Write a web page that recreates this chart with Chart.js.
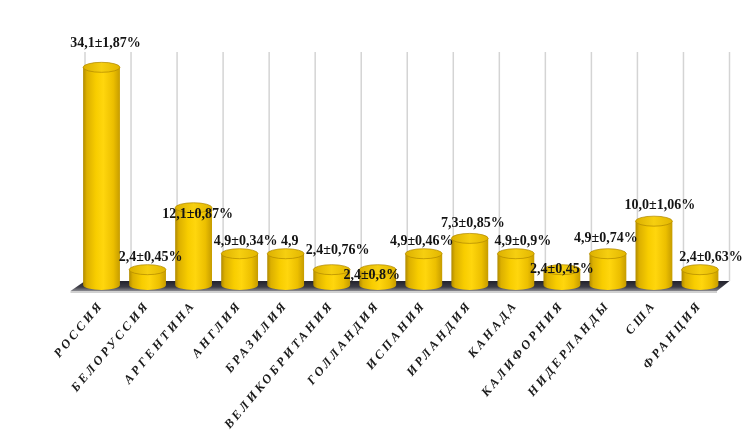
<!DOCTYPE html>
<html><head><meta charset="utf-8">
<script src="https://cdn.jsdelivr.net/npm/chart.js@4"></script>
<style>html,body{margin:0;padding:0;background:#fff}canvas{display:block}</style>
</head><body>
<canvas id="c" width="748" height="448"></canvas>
<script>
const categories = ['РОССИЯ','БЕЛОРУССИЯ','АРГЕНТИНА','АНГЛИЯ','БРАЗИЛИЯ','ВЕЛИКОБРИТАНИЯ','ГОЛЛАНДИЯ','ИСПАНИЯ','ИРЛАНДИЯ','КАНАДА','КАЛИФОРНИЯ','НИДЕРЛАНДЫ','США','ФРАНЦИЯ'];
const values = [34.1, 2.4, 12.1, 4.9, 4.9, 2.4, 2.4, 4.9, 7.3, 4.9, 2.4, 4.9, 10.0, 2.4];
const valueLabels = ['34,1±1,87%','2,4±0,45%','12,1±0,87%','4,9±0,34%','4,9','2,4±0,76%','2,4±0,8%','4,9±0,46%','7,3±0,85%','4,9±0,9%','2,4±0,45%','4,9±0,74%','10,0±1,06%','2,4±0,63%'];
// label nudges in px (placement style only)
const labelDx = [4, 3, 4, 6, 4, 6, -6, -2, 3, 7, 0, -2, 6, 11];
const labelDy = [-19, -7, 12, -7, -7, -14, 11, -7, -10, -7, 5, -10, -11, -7];

const RY = 5;        // cylinder ellipse half-height
const DEPTH = 6.5;   // 3D back-wall shift

function bodyGradient(ctx, x0, x1) {
  const g = ctx.createLinearGradient(x0, 0, x1, 0);
  g.addColorStop(0, '#b08a00');
  g.addColorStop(0.1, '#dcb000');
  g.addColorStop(0.35, '#f8cd00');
  g.addColorStop(0.55, '#ffd60d');
  g.addColorStop(0.82, '#ecbf00');
  g.addColorStop(1, '#c69c00');
  return g;
}
function topGradient(ctx, x0, x1) {
  const g = ctx.createLinearGradient(x0, 0, x1, 0);
  g.addColorStop(0, '#dcb000');
  g.addColorStop(0.5, '#f6cf10');
  g.addColorStop(1, '#e2b600');
  return g;
}

const cylPlugin = {
  id: 'cyl',
  beforeDraw(chart) {
    chart.ctx.letterSpacing = '3px';
  },
  beforeDatasetsDraw(chart) {
    const ctx = chart.ctx;
    ctx.letterSpacing = '0px';
    ctx.save();
    const xs = chart.scales.x, ca = chart.chartArea;
    const n = categories.length;
    const floorBack = ca.bottom - 4, floorFront = ca.bottom + 6;
    // back-wall gridlines
    ctx.strokeStyle = '#d4d4d4';
    ctx.lineWidth = 1.5;
    for (let i = 0; i <= n; i++) {
      const x = xs.getPixelForValue(i - 0.5) + DEPTH;
      ctx.beginPath();
      ctx.moveTo(x, ca.top);
      ctx.lineTo(x, floorBack);
      ctx.stroke();
    }
    // floor
    const xl = xs.getPixelForValue(-0.5), xr = xs.getPixelForValue(n - 0.5);
    ctx.beginPath();
    ctx.moveTo(xl + DEPTH, floorBack);
    ctx.lineTo(xr + DEPTH, floorBack);
    ctx.lineTo(xr - 6, floorFront);
    ctx.lineTo(xl - 8, floorFront);
    ctx.closePath();
    const fg = ctx.createLinearGradient(0, floorBack, 0, floorFront);
    fg.addColorStop(0, '#22222c');
    fg.addColorStop(0.6, '#3c3c46');
    fg.addColorStop(1, '#8a8a90');
    ctx.fillStyle = fg;
    ctx.fill();
    ctx.fillStyle = 'rgba(170,170,170,0.55)';
    ctx.fillRect(xl - 8, floorFront, xr - xl + 2, 2);
    // bottom half-ellipses of cylinders
    const meta = chart.getDatasetMeta(0);
    meta.data.forEach(bar => {
      const p = bar.getProps(['x', 'base', 'width'], true);
      const hw = p.width / 2;
      ctx.beginPath();
      ctx.ellipse(p.x, p.base, hw, RY, 0, 0, Math.PI);
      ctx.closePath();
      ctx.fillStyle = bodyGradient(ctx, p.x - hw, p.x + hw);
      ctx.fill();
    });
    ctx.restore();
  },
  afterDatasetsDraw(chart) {
    const ctx = chart.ctx;
    ctx.save();
    ctx.letterSpacing = '0px';
    const meta = chart.getDatasetMeta(0);
    meta.data.forEach(bar => {
      const p = bar.getProps(['x', 'y', 'width'], true);
      const hw = p.width / 2;
      ctx.beginPath();
      ctx.ellipse(p.x, p.y, hw, RY, 0, 0, Math.PI * 2);
      ctx.fillStyle = topGradient(ctx, p.x - hw, p.x + hw);
      ctx.fill();
      ctx.strokeStyle = 'rgba(175,135,0,0.7)';
      ctx.lineWidth = 1;
      ctx.stroke();
    });
    ctx.font = 'bold 14px "Liberation Serif", "Times New Roman", serif';
    ctx.textAlign = 'center';
    ctx.textBaseline = 'middle';
    ctx.fillStyle = '#141414';
    meta.data.forEach((bar, i) => {
      const p = bar.getProps(['x', 'y'], true);
      ctx.fillText(valueLabels[i], p.x + labelDx[i], p.y - RY + labelDy[i]);
    });
    ctx.restore();
  }
};

new Chart(document.getElementById('c'), {
  type: 'bar',
  data: {
    labels: categories,
    datasets: [{
      data: values,
      barPercentage: 0.8,
      categoryPercentage: 1.0,
      borderWidth: 0,
      backgroundColor: (c) => {
        const chart = c.chart, xs = chart.scales && chart.scales.x;
        if (!chart.chartArea || !xs || c.dataIndex === undefined) return '#f2c500';
        const cx = xs.getPixelForValue(c.dataIndex);
        const hw = (xs.getPixelForValue(1) - xs.getPixelForValue(0)) * 0.8 / 2;
        return bodyGradient(chart.ctx, cx - hw, cx + hw);
      }
    }]
  },
  options: {
    responsive: false,
    animation: false,
    devicePixelRatio: 1,
    layout: { padding: { left: 78.5, right: 25, top: 52, bottom: 0 } },
    plugins: { legend: { display: false }, tooltip: { enabled: false } },
    scales: {
      x: {
        grid: { display: false },
        border: { display: false },
        ticks: {
          autoSkip: false,
          minRotation: 50,
          maxRotation: 50,
          padding: 5,
          color: '#1a1a1a',
          font: { family: '"Liberation Serif", serif', weight: 'bold', style: 'italic', size: 12.5 }
        },
        afterFit: (s) => { s.height = 163; }
      },
      y: {
        display: false,
        min: 0,
        max: 36.5
      }
    }
  },
  plugins: [cylPlugin]
});
</script>
</body></html>
